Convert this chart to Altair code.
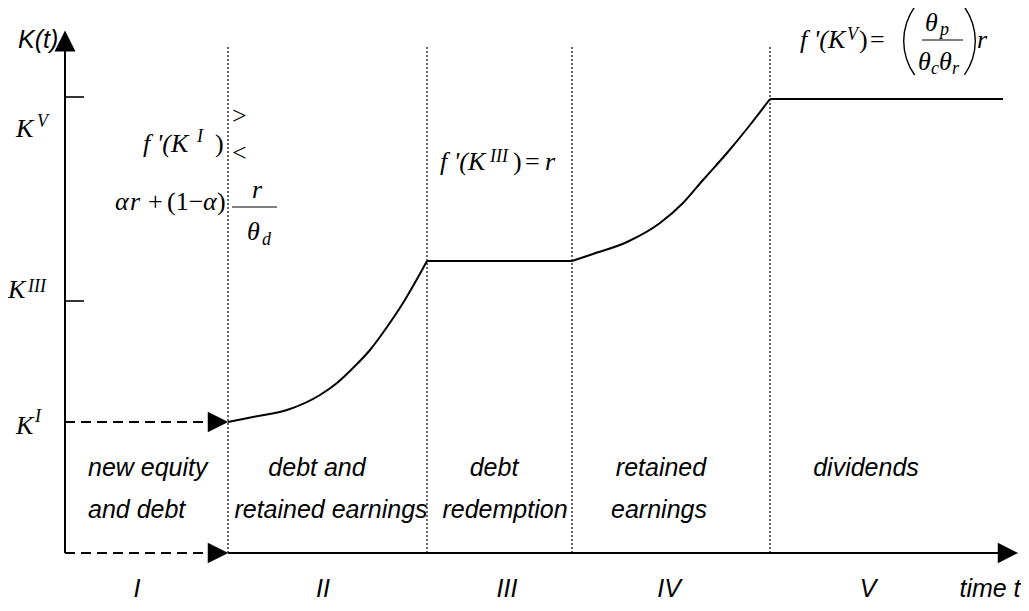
import altair as alt
import pandas as pd

# ---------------- data (chart units: time t, capital K) ----------------
stage_t = [1.63, 3.62, 5.07, 7.05]          # phase boundaries
stage_top = 5.06
K_I = 1.31
tick_K = [4.56, 2.52]                        # y-axis ticks (K^V, K^III)

path_seg = ["II"] * 10 + ["III"] * 2 + ["IV"] * 9 + ["V"] * 2
path_t = [1.63, 1.88, 2.22, 2.55, 2.72, 2.88, 3.05, 3.22, 3.38, 3.62,
          3.62, 5.07,
          5.07, 5.28, 5.62, 5.95, 6.18, 6.38, 6.62, 6.85, 7.05,
          7.05, 9.38]
path_K = [1.31, 1.36, 1.43, 1.58, 1.70, 1.85, 2.03, 2.26, 2.50, 2.92,
          2.92, 2.92,
          2.92, 2.99, 3.11, 3.30, 3.50, 3.73, 4.00, 4.28, 4.54,
          4.54, 4.54]

# phase descriptions
phase_text = ["debt and", "retained earnings", "debt", "redemption",
              "retained", "earnings", "dividends"]
phase_t = [2.52, 2.66, 4.29, 4.40, 5.96, 5.94, 8.01]
phase_K = [0.77, 0.35, 0.77, 0.35, 0.77, 0.35, 0.77]
phaseI_text = ["new equity", "and debt", "K(t)"]
phaseI_t = [0.23, 0.23, -0.47]
phaseI_K = [0.77, 0.35, 5.05]

roman_text = ["I", "II", "III", "IV", "V", "time t"]
roman_t = [0.72, 2.58, 4.42, 6.04, 8.03, 9.25]
roman_K = [-0.44] * 6

# math (italic serif) pieces
mi_text = ["K", "V", "K", "III", "K", "I",
           "f '(K", "I",
           "α", "r", "α", "r", "θ", "d",
           "f '(K", "III", "r",
           "f '(K", "V", "θ", "p", "θ", "c", "θ", "r", "r"]
mi_t = [-0.49, -0.28, -0.57, -0.37, -0.49, -0.30,
        0.78, 1.32,
        0.50, 0.65, 1.38, 1.87, 1.82, 1.97,
        3.75, 4.25, 4.80,
        7.35, 7.82, 8.60, 8.75, 8.53, 8.66, 8.74, 8.87, 9.12]
mi_K = [4.16, 4.26, 2.55, 2.61, 1.19, 1.31,
        4.01, 4.11,
        3.43, 3.43, 3.43, 3.55, 3.13, 3.08,
        3.83, 3.91, 3.83,
        5.05, 5.13, 5.22, 5.18, 4.83, 4.79, 4.83, 4.79, 5.05]
mi_size = [26, 18, 26, 18, 26, 18,
           26, 18,
           26, 26, 26, 26, 26, 18,
           26, 18, 26,
           26, 18, 26, 18, 26, 18, 26, 18, 26]

# math (upright serif) pieces
mr_text = [")", "+", "(1−", ")",
           ")", "=",
           ")", "="]
mr_t = [1.50, 0.83, 1.02, 1.52,
        4.48, 4.60,
        7.94, 8.05]
mr_K = [4.01, 3.43, 3.43, 3.43,
        3.83, 3.83,
        5.05, 5.05]
cmp_text = [">", "<"]
cmp_t = [1.67, 1.67]
cmp_K = [4.29, 3.92]

# fraction bars
frac_t = [1.67, 8.57]
frac_t2 = [2.12, 8.98]
frac_K = [3.46, 5.13]

# ---------------- chart ----------------
xs = alt.Scale(domain=[-0.57, 9.56], nice=False, zero=False)
ys = alt.Scale(domain=[-0.5, 5.45], nice=False, zero=False)
X = lambda f="t": alt.X(f"{f}:Q", scale=xs, axis=None)
Y = lambda f="K": alt.Y(f"{f}:Q", scale=ys, axis=None)

layers = []

# dotted phase boundaries
d_stage = pd.DataFrame({"t": stage_t, "K": [0] * 4, "K2": [stage_top] * 4})
layers.append(alt.Chart(d_stage).mark_rule(color="black", strokeWidth=1.2, strokeDash=[2, 2])
              .encode(x=X(), y=Y(), y2="K2:Q"))

# y axis
d_yax = pd.DataFrame({"t": [0], "K": [0], "K2": [5.02]})
layers.append(alt.Chart(d_yax).mark_rule(color="black", strokeWidth=2)
              .encode(x=X(), y=Y(), y2="K2:Q"))
# y ticks
d_tick = pd.DataFrame({"t": [0] * 2, "t2": [0.19] * 2, "K": tick_K})
layers.append(alt.Chart(d_tick).mark_rule(color="black", strokeWidth=1.6)
              .encode(x=X(), x2="t2:Q", y=Y()))
# x axis (solid part)
d_xax = pd.DataFrame({"t": [stage_t[0]], "t2": [9.36], "K": [0]})
layers.append(alt.Chart(d_xax).mark_rule(color="black", strokeWidth=2)
              .encode(x=X(), x2="t2:Q", y=Y()))
# dashed arrows (new equity phase)
d_dash = pd.DataFrame({"t": [0, 0], "t2": [1.44, 1.44], "K": [0, K_I]})
layers.append(alt.Chart(d_dash).mark_rule(color="black", strokeWidth=1.8, strokeDash=[10, 6])
              .encode(x=X(), x2="t2:Q", y=Y()))

# arrow heads
d_right = pd.DataFrame({"t": [1.53, 1.53, 9.43], "K": [0, K_I, 0]})
layers.append(alt.Chart(d_right).mark_point(shape="M1,0L-1,-1L-1,1Z", filled=True, size=420,
                                            color="black", opacity=1)
              .encode(x=X(), y=Y()))
d_up = pd.DataFrame({"t": [0], "K": [5.12]})
layers.append(alt.Chart(d_up).mark_point(shape="M0,-1L1,1L-1,1Z", filled=True, size=441,
                                         color="black", opacity=1)
              .encode(x=X(), y=Y()))

# capital path
d_path = pd.DataFrame({"t": path_t, "K": path_K, "seg": path_seg})
layers.append(alt.Chart(d_path).mark_line(color="black", strokeWidth=2, interpolate="monotone")
              .encode(x=X(), y=Y(), detail="seg:N"))

# fraction bars
d_frac = pd.DataFrame({"t": frac_t, "t2": frac_t2, "K": frac_K})
layers.append(alt.Chart(d_frac).mark_rule(color="black", strokeWidth=1)
              .encode(x=X(), x2="t2:Q", y=Y()))

# big parentheses
d_lp = pd.DataFrame({"t": [8.97], "K": [5.12]})
layers.append(alt.Chart(d_lp).mark_arc(theta=4.09, theta2=5.34, radius=59, radius2=57.6, color="black")
              .encode(x=X(), y=Y()))
d_rp = pd.DataFrame({"t": [8.52], "K": [5.12]})
layers.append(alt.Chart(d_rp).mark_arc(theta=0.95, theta2=2.19, radius=59, radius2=57.6, color="black")
              .encode(x=X(), y=Y()))

sans = dict(baseline="alphabetic", font="Liberation Sans", fontStyle="italic",
            fontSize=25, color="black")

# sans italic labels
d_phase = pd.DataFrame({"t": phase_t, "K": phase_K, "text": phase_text})
layers.append(alt.Chart(d_phase).mark_text(align="center", **sans)
              .encode(x=X(), y=Y(), text="text:N"))
d_phaseI = pd.DataFrame({"t": phaseI_t, "K": phaseI_K, "text": phaseI_text})
layers.append(alt.Chart(d_phaseI).mark_text(align="left", **sans)
              .encode(x=X(), y=Y(), text="text:N"))
d_roman = pd.DataFrame({"t": roman_t, "K": roman_K, "text": roman_text})
layers.append(alt.Chart(d_roman).mark_text(align="center", **sans)
              .encode(x=X(), y=Y(), text="text:N"))

# math pieces
d_mi = pd.DataFrame({"t": mi_t, "K": mi_K, "text": mi_text, "size": mi_size})
layers.append(alt.Chart(d_mi).mark_text(align="left", baseline="alphabetic",
                                        font="Liberation Serif", fontStyle="italic", color="black")
              .encode(x=X(), y=Y(), text="text:N", size=alt.Size("size:Q", scale=None)))
d_mr = pd.DataFrame({"t": mr_t, "K": mr_K, "text": mr_text})
layers.append(alt.Chart(d_mr).mark_text(align="left", baseline="alphabetic",
                                        font="Liberation Serif", fontSize=26, color="black")
              .encode(x=X(), y=Y(), text="text:N"))
d_cmp = pd.DataFrame({"t": cmp_t, "K": cmp_K, "text": cmp_text})
layers.append(alt.Chart(d_cmp).mark_text(align="left", baseline="alphabetic",
                                         font="Liberation Serif", fontSize=26, color="black")
              .encode(x=X(), y=Y(), text="text:N"))

chart = alt.layer(*layers).properties(
    width=1013, height=595,
    padding={"left": 0, "top": 0, "right": 0, "bottom": 0},
    autosize=alt.AutoSizeParams(type="none"),
    background="white",
).configure_view(stroke=None)

chart.save("out.html", embed_options={"renderer": "svg", "actions": False})
